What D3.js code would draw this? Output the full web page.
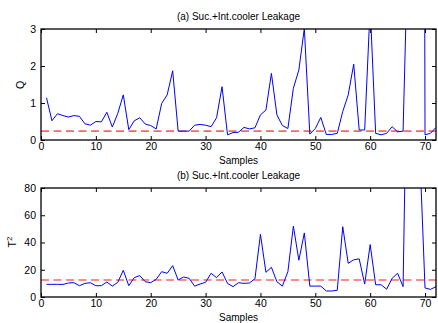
<!DOCTYPE html>
<html>
<head>
<meta charset="utf-8">
<script src="https://cdn.jsdelivr.net/npm/d3@7"></script>
<style>
  body { margin: 0; background: #fff; }
  svg text { font-family: "Liberation Sans", Arial, sans-serif; fill: #000; }
</style>
</head>
<body>
<div id="chart"></div>
<script>
// chart size
var width = 438;
var height = 323;

// sample numbers 1..72
var samples = d3.range(1, 73);

// Q statistic (panel a)
var qValues = [
  1.14, 0.52, 0.71, 0.66, 0.62, 0.66, 0.64, 0.44, 0.40, 0.50,
  0.49, 0.75, 0.35, 0.72, 1.22, 0.28, 0.52, 0.60, 0.43, 0.39,
  0.30, 0.99, 1.22, 1.87, 0.24, 0.24, 0.24, 0.40, 0.42, 0.40,
  0.36, 0.60, 1.44, 0.14, 0.20, 0.21, 0.34, 0.30, 0.33, 0.68,
  0.81, 1.80, 0.68, 0.39, 0.31, 1.40, 1.89, 3.02, 0.16, 0.31,
  0.61, 0.15, 0.15, 0.18, 0.77, 1.22, 2.05, 0.27, 0.27, 3.60,
  0.18, 0.14, 0.18, 0.36, 0.22, 0.24, 6.0, 8.0, 60.0, 0.14,
  0.18, 0.34
];
var qLimit = 0.24;

// T^2 statistic (panel b)
var t2Values = [
  9.3, 9.3, 9.3, 9.2, 10.3, 10.5, 8.3, 10.0, 10.5, 8.3,
  8.3, 11.0, 8.0, 10.8, 19.6, 8.3, 14.2, 15.7, 11.2, 10.5,
  13.0, 18.6, 17.4, 23.0, 12.5, 14.7, 13.7, 8.0, 9.5, 10.8,
  17.4, 14.2, 18.4, 10.0, 7.6, 10.5, 10.0, 10.3, 13.4, 46.0,
  18.1, 21.8, 11.2, 8.0, 18.6, 52.0, 27.0, 47.0, 8.0, 8.0,
  8.0, 4.4, 4.4, 5.0, 51.6, 24.7, 27.3, 28.0, 9.5, 38.5,
  9.0, 9.0, 5.7, 13.7, 17.4, 7.6, 250, 300, 110, 6.6,
  5.6, 7.6
];
var t2Limit = 12.5;

var xTicks = [0, 10, 20, 30, 40, 50, 60, 70];
var qTicks = [0, 1, 2, 3];
var t2Ticks = [0, 20, 40, 60, 80];

var svg = d3.select("#chart")
  .append("svg")
  .attr("width", width)
  .attr("height", height);

// shared x scale
var x = d3.scaleLinear().domain([0, 72]).range([41, 436]);

function drawPanel(opts) {
  var y = d3.scaleLinear().domain(opts.domain).range([opts.bottom, opts.top]);
  var g = svg.append("g");

  // clip so spikes stop at the box
  g.append("clipPath")
    .attr("id", opts.id)
    .append("rect")
    .attr("x", x.range()[0])
    .attr("y", opts.top)
    .attr("width", x.range()[1] - x.range()[0])
    .attr("height", opts.bottom - opts.top);

  var plot = g.append("g").attr("clip-path", "url(#" + opts.id + ")");

  // threshold line
  plot.append("line")
    .attr("x1", x(0))
    .attr("x2", x(72))
    .attr("y1", y(opts.limit))
    .attr("y2", y(opts.limit))
    .attr("stroke", "#ff3333")
    .attr("stroke-opacity", 0.75)
    .attr("stroke-width", 1.6)
    .attr("stroke-dasharray", "8,4.5");

  var line = d3.line()
    .x(function(d, i) { return x(samples[i]); })
    .y(function(d) { return y(d); });

  plot.append("path")
    .datum(opts.values)
    .attr("d", line)
    .attr("fill", "none")
    .attr("stroke", "#0000ff")
    .attr("stroke-width", 1);

  // bottom axis with labels
  var bottomAxis = g.append("g")
    .attr("transform", "translate(0," + opts.bottom + ")")
    .call(d3.axisBottom(x).tickValues(xTicks).tickSizeInner(-4).tickSizeOuter(0)
      .tickPadding(3).tickFormat(d3.format("d")));
  // top ticks, no labels
  var topAxis = g.append("g")
    .attr("transform", "translate(0," + opts.top + ")")
    .call(d3.axisTop(x).tickValues(xTicks).tickSizeInner(-4).tickSizeOuter(0).tickFormat(""));
  // left axis with labels
  var leftAxis = g.append("g")
    .attr("transform", "translate(" + x.range()[0] + ",0)")
    .call(d3.axisLeft(y).tickValues(opts.ticks).tickSizeInner(-4).tickSizeOuter(0)
      .tickPadding(5).tickFormat(d3.format("d")));
  // right ticks
  var rightAxis = g.append("g")
    .attr("transform", "translate(" + x.range()[1] + ",0)")
    .call(d3.axisRight(y).tickValues(opts.ticks).tickSizeInner(-4).tickSizeOuter(0).tickFormat(""));

  [bottomAxis, topAxis, leftAxis, rightAxis].forEach(function(a) {
    a.select(".domain").remove();
    a.selectAll("line").attr("stroke", "#000");
    a.selectAll("text").style("font-size", "10.5px").style("font-family", "Liberation Sans, Arial, sans-serif");
  });

  // box
  g.append("rect")
    .attr("x", x.range()[0])
    .attr("y", opts.top)
    .attr("width", x.range()[1] - x.range()[0])
    .attr("height", opts.bottom - opts.top)
    .attr("fill", "none")
    .attr("stroke", "#000")
    .attr("stroke-width", 1.3);

  // title
  g.append("text")
    .attr("x", (x.range()[0] + x.range()[1]) / 2)
    .attr("y", opts.top - 9)
    .attr("text-anchor", "middle")
    .style("font-size", "10px")
    .text(opts.title);

  // x label
  g.append("text")
    .attr("x", (x.range()[0] + x.range()[1]) / 2)
    .attr("y", opts.bottom + 23.5)
    .attr("text-anchor", "middle")
    .style("font-size", "10px")
    .text("Samples");

  return g;
}

var gA = drawPanel({
  id: "clipA", values: qValues, limit: qLimit, domain: [0, 3], ticks: qTicks,
  top: 29, bottom: 140, title: "(a) Suc.+Int.cooler Leakage"
});
gA.append("text")
  .attr("transform", "translate(24,85) rotate(-90)")
  .attr("text-anchor", "middle")
  .style("font-size", "10.5px")
  .text("Q");

var gB = drawPanel({
  id: "clipB", values: t2Values, limit: t2Limit, domain: [0, 80], ticks: t2Ticks,
  top: 188, bottom: 297, title: "(b) Suc.+Int.cooler Leakage"
});
var t2Label = gB.append("text")
  .attr("transform", "translate(16,242) rotate(-90)")
  .attr("text-anchor", "middle")
  .style("font-size", "10.5px");
t2Label.append("tspan").text("T");
t2Label.append("tspan").attr("dy", -4).style("font-size", "8px").text("2");
</script>
</body>
</html>
